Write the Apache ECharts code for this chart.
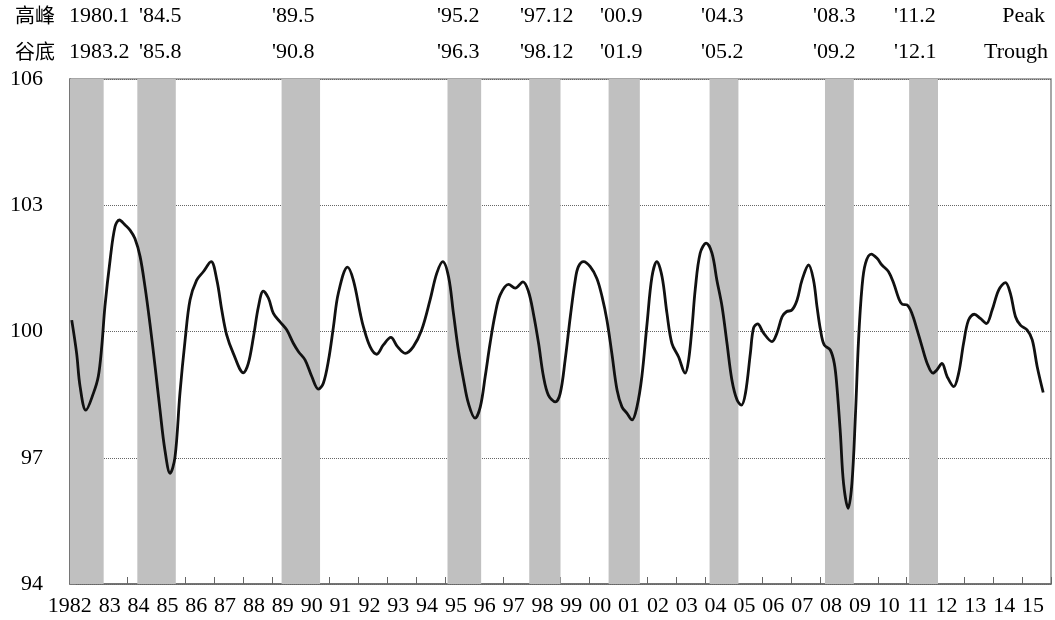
<!DOCTYPE html>
<html>
<head>
<meta charset="utf-8">
<script src="https://cdn.jsdelivr.net/npm/echarts@6/dist/echarts.min.js"></script>
<style>
html,body{margin:0;padding:0;background:#fff;}
#chart{width:1055px;height:620px;}
</style>
</head>
<body>
<div id="chart"></div>
<script>
// ---- data ----
const years = [
1982.06,1982.23,1982.35,1982.55,1982.81,1982.98,1983.10,1983.21,1983.39,1983.56,1983.71,1983.91,
1984.08,1984.25,1984.43,1984.60,1984.77,1984.95,1985.12,1985.29,1985.47,1985.64,1985.81,1985.99,
1986.16,1986.39,1986.62,1986.89,1987.09,1987.26,1987.43,1987.66,1988.01,1988.18,1988.36,1988.53,
1988.70,1988.88,1989.05,1989.28,1989.51,1989.74,1989.92,1990.15,1990.38,1990.61,1990.78,1990.96,
1991.13,1991.30,1991.62,1991.82,1992.06,1992.17,1992.40,1992.63,1992.86,1993.12,1993.35,1993.62,
1993.90,1994.19,1994.48,1994.71,1994.92,1995.12,1995.29,1995.46,1995.64,1995.81,1996.04,1996.22,
1996.39,1996.56,1996.74,1996.91,1997.20,1997.43,1997.70,1997.89,1998.06,1998.24,1998.41,1998.58,
1998.82,1998.99,1999.16,1999.34,1999.51,1999.62,1999.80,2000.03,2000.26,2000.44,2000.61,2000.78,
2000.96,2001.13,2001.30,2001.48,2001.65,2001.82,2002.00,2002.17,2002.34,2002.52,2002.69,2002.86,
2003.09,2003.32,2003.44,2003.56,2003.67,2003.84,2004.05,2004.25,2004.42,2004.60,2004.77,2004.94,
2005.12,2005.27,2005.41,2005.58,2005.69,2005.83,2006.04,2006.33,2006.50,2006.68,2006.83,2007.02,
2007.20,2007.37,2007.60,2007.77,2007.89,2008.01,2008.14,2008.35,2008.49,2008.58,2008.70,2008.81,
2008.97,2009.10,2009.22,2009.33,2009.45,2009.57,2009.77,2009.97,2010.14,2010.37,2010.55,2010.72,
2010.84,2011.01,2011.18,2011.36,2011.53,2011.71,2011.91,2012.05,2012.22,2012.40,2012.63,2012.80,
2012.97,2013.14,2013.34,2013.55,2013.76,2013.96,2014.19,2014.42,2014.59,2014.77,2014.94,2015.17,
2015.35,2015.52,2015.73
];
const values = [
100.27,99.48,98.69,98.13,98.53,98.93,99.64,100.59,101.70,102.49,102.65,102.53,
102.41,102.21,101.78,101.06,100.19,99.16,98.13,97.18,96.63,97.02,98.53,99.80,
100.75,101.22,101.42,101.66,101.22,100.51,99.92,99.48,99.02,99.24,99.88,100.59,
100.96,100.79,100.43,100.23,100.04,99.72,99.52,99.32,98.93,98.63,98.77,99.32,
100.11,100.91,101.53,101.22,100.43,100.11,99.64,99.46,99.68,99.86,99.64,99.48,
99.64,100.04,100.75,101.38,101.66,101.30,100.43,99.56,98.85,98.29,97.94,98.21,
98.93,99.72,100.43,100.87,101.12,101.03,101.18,100.95,100.43,99.72,98.93,98.49,
98.33,98.53,99.32,100.35,101.22,101.54,101.66,101.54,101.26,100.83,100.27,99.48,
98.61,98.21,98.06,97.90,98.21,98.93,100.19,101.30,101.66,101.30,100.43,99.72,
99.40,99.01,99.32,100.11,101.00,101.86,102.10,101.86,101.22,100.59,99.72,98.85,
98.37,98.25,98.53,99.48,100.08,100.18,99.96,99.76,99.96,100.35,100.47,100.51,
100.75,101.22,101.58,101.22,100.59,100.04,99.68,99.56,99.24,98.69,97.58,96.39,
95.80,96.39,97.98,99.80,101.06,101.62,101.84,101.74,101.58,101.42,101.14,100.79,
100.65,100.63,100.43,100.04,99.64,99.24,99.01,99.09,99.24,98.93,98.69,99.01,
99.72,100.27,100.41,100.31,100.19,100.51,100.99,101.16,100.91,100.35,100.15,100.04,
99.80,99.17,98.55
];
// recession bands: peak [year, month] to trough [year, month]
const peakDates   = [[1980,1],[1984,5],[1989,5],[1995,2],[1997,12],[2000,9],[2004,3],[2008,3],[2011,2]];
const troughDates = [[1983,2],[1985,8],[1990,8],[1996,3],[1998,12],[2001,9],[2005,2],[2009,2],[2012,1]];
const peakLabels   = ['1980.1',"'84.5","'89.5","'95.2","'97.12","'00.9","'04.3","'08.3","'11.2"];
const troughLabels = ['1983.2',"'85.8","'90.8","'96.3","'98.12","'01.9","'05.2","'09.2","'12.1"];
const yTicks = [94, 97, 100, 103, 106];
const xStartYear = 1982, xEndYear = 2016;

// ---- layout (not data) ----
const labelLeft = [69, 139, 272, 437, 520, 600, 701, 813, 894];
const SERIF = "'Liberation Serif','Times New Roman',serif";
const CJK = "'Noto Sans CJK SC','Noto Sans CJK JP',sans-serif";

const axisMin = xStartYear;
const bands = peakDates.map((p, i) => {
  const t = troughDates[i];
  const s = Math.max(axisMin, p[0] + (p[1] - 1) / 12);
  const e = t[0] + t[1] / 12;
  return [{xAxis: s}, {xAxis: e}];
});

const graphics = [];
const row1 = 17, row2 = 53;
graphics.push({type:'text', left:15, top: row1 - 12, style:{text:'高峰', font:'20px ' + CJK, fill:'#000'}});
graphics.push({type:'text', left:15, top: row2 - 12, style:{text:'谷底', font:'20px ' + CJK, fill:'#000'}});
peakLabels.forEach((t, i) => {
  graphics.push({type:'text', left: labelLeft[i], top: row1 - 12, style:{text:t, font:'22px ' + SERIF, fill:'#000'}});
});
troughLabels.forEach((t, i) => {
  graphics.push({type:'text', left: labelLeft[i], top: row2 - 12, style:{text:t, font:'22px ' + SERIF, fill:'#000'}});
});
graphics.push({type:'text', right: 10, top: row1 - 12, style:{text:'Peak', font:'22px ' + SERIF, fill:'#000'}});
graphics.push({type:'text', right: 7, top: row2 - 12, style:{text:'Trough', font:'22px ' + SERIF, fill:'#000'}});

const chart = echarts.init(document.getElementById('chart'), null, {renderer:'canvas'});
chart.setOption({
  animation: false,
  backgroundColor: '#fff',
  grid: {left: 70, right: 4, top: 79, bottom: 36, show: true, borderColor: '#8a8a8a', borderWidth: 1.5, backgroundColor: 'transparent'},
  xAxis: {
    type: 'value', min: xStartYear, max: xEndYear, interval: 1,
    axisLine: {show: true, onZero: false, lineStyle: {color: '#666', width: 1.5}},
    axisTick: {show: true, inside: true, length: 7, lineStyle: {color: '#666', width: 1}},
    splitLine: {show: false},
    axisLabel: {
      show: true, showMinLabel: false, showMaxLabel: true,
      align: 'right', padding: [0, 7, 0, 0], margin: 11,
      fontFamily: SERIF, fontSize: 22, color: '#000',
      formatter: v => {
        const y = Math.round(v) - 1;
        if (y < xStartYear) return '';
        return y === xStartYear ? String(y) : String(y).slice(2);
      }
    }
  },
  yAxis: {
    type: 'value', min: yTicks[0], max: yTicks[yTicks.length - 1], interval: 3,
    axisLine: {show: true, lineStyle: {color: '#666', width: 1.5}},
    axisTick: {show: true, inside: true, length: 6, lineStyle: {color: '#777'}},
    splitLine: {show: true, lineStyle: {color: '#666', type: 'dotted', width: 1}},
    axisLabel: {margin: 27, fontFamily: SERIF, fontSize: 22, color: '#000'}
  },
  graphic: graphics,
  series: [{
    type: 'line',
    data: years.map((y, i) => [y, values[i]]),
    smooth: 0.35,
    showSymbol: false,
    symbol: 'none',
    lineStyle: {color: '#111', width: 2.8},
    z: 3,
    markArea: {
      silent: true,
      itemStyle: {color: '#c0c0c0', opacity: 1},
      data: bands
    }
  }]
});
</script>
</body>
</html>
